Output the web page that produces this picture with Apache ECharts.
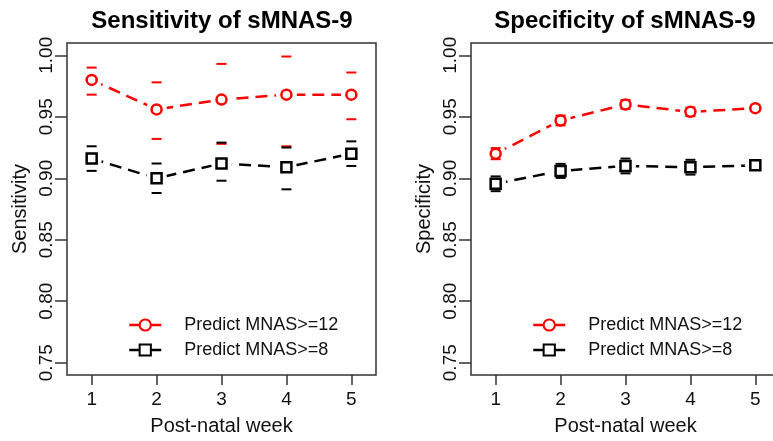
<!DOCTYPE html>
<html>
<head>
<meta charset="utf-8">
<title>sMNAS-9</title>
<script src="https://cdn.jsdelivr.net/npm/echarts@6/dist/echarts.min.js"></script>
<style>
	html, body { margin: 0; padding: 0; background: #fff; }
	#main { width: 773px; height: 441px; }
</style>
</head>
<body>
<div id="main"></div>
<script>
var weeks = [1, 2, 3, 4, 5];
var yTicks = [0.75, 0.80, 0.85, 0.90, 0.95, 1.00];

// Sensitivity panel
var sensHi12 = [0.980, 0.956, 0.964, 0.968, 0.968];
var sensHi12Lo = [0.968, 0.932, 0.928, 0.926, 0.948];
var sensHi12Up = [0.990, 0.978, 0.993, 0.999, 0.986];
var sens8 = [0.916, 0.900, 0.912, 0.909, 0.920];
var sens8Lo = [0.906, 0.888, 0.898, 0.891, 0.910];
var sens8Up = [0.926, 0.912, 0.929, 0.925, 0.930];

// Specificity panel
var spec12 = [0.920, 0.947, 0.960, 0.954, 0.957];
var spec12Lo = [0.9155, 0.943, 0.9565, 0.9505, 0.955];
var spec12Up = [0.9245, 0.951, 0.9635, 0.9575, 0.959];
var spec8 = [0.8955, 0.906, 0.910, 0.909, 0.9105];
var spec8Lo = [0.8895, 0.9003, 0.904, 0.903, 0.9085];
var spec8Up = [0.9015, 0.9117, 0.916, 0.915, 0.9125];

var NAME12 = "Predict MNAS>=12";
var NAME8 = "Predict MNAS>=8";
var FONT = "Liberation Sans, Arial, Helvetica, sans-serif";

function pairs(vals) {
	return weeks.map(function (w, i) { return [w, vals[i]]; });
}

function triples(lo, up) {
	return weeks.map(function (w, i) { return [w, lo[i], up[i]]; });
}

function renderCap(params, api) {
	var x = api.value(0);
	var lo = api.coord([x, api.value(1)]);
	var up = api.coord([x, api.value(2)]);
	var half = 5;
	var st = { stroke: api.visual("color"), lineWidth: 2 };
	return {
		type: "group",
		children: [
			{ type: "line", shape: { x1: lo[0] - half, y1: lo[1], x2: lo[0] + half, y2: lo[1] }, style: st },
			{ type: "line", shape: { x1: up[0] - half, y1: up[1], x2: up[0] + half, y2: up[1] }, style: st }
		]
	};
}

function panelSeries(idx, v12, lo12, up12, v8, lo8, up8) {
	var base = { xAxisIndex: idx, yAxisIndex: idx, silent: true, animation: false };
	var list = [
		{ type: "line", name: NAME12, data: pairs(v12), symbol: "emptyCircle", showSymbol: false,
			itemStyle: { color: "#ff0000" }, lineStyle: { color: "#ff0000", width: 2.5, type: [12, 7] }, z: 2 },
		{ type: "line", name: NAME8, data: pairs(v8), symbol: "emptyRect", showSymbol: false,
			itemStyle: { color: "#000" }, lineStyle: { color: "#000", width: 2.5, type: [12, 7] }, z: 2 },
		// white blobs leave the gap round each point, like R type="b"
		{ type: "scatter", name: "gap", data: pairs(v12).concat(pairs(v8)), symbol: "circle", symbolSize: 21,
			itemStyle: { color: "#fff", opacity: 1 }, z: 3 },
		{ type: "custom", name: "ci12", data: triples(lo12, up12), renderItem: renderCap,
			itemStyle: { color: "#ff0000" }, encode: { x: 0, y: [1, 2] }, z: 4 },
		{ type: "custom", name: "ci8", data: triples(lo8, up8), renderItem: renderCap,
			itemStyle: { color: "#000" }, encode: { x: 0, y: [1, 2] }, z: 4 },
		{ type: "scatter", name: "pts12", data: pairs(v12), symbol: "circle", symbolSize: 10,
			itemStyle: { color: "#fff", borderColor: "#ff0000", borderWidth: 2.5, opacity: 1 }, z: 5 },
		{ type: "scatter", name: "pts8", data: pairs(v8), symbol: "rect", symbolSize: 10,
			itemStyle: { color: "#fff", borderColor: "#000", borderWidth: 2.5, opacity: 1 }, z: 5 }
	];
	return list.map(function (s) { return Object.assign({}, base, s); });
}

function xAxisFor(idx) {
	return {
		type: "value", gridIndex: idx, min: 0.62, max: 5.38,
		splitLine: { show: false },
		axisLine: { show: false },
		axisTick: { show: true, length: 10, customValues: weeks, lineStyle: { color: "#333", width: 1.5 } },
		axisLabel: { customValues: weeks, margin: 15, fontSize: 19, color: "#111", fontFamily: FONT },
		name: "Post-natal week", nameLocation: "middle", nameGap: 41, nameMoveOverlap: false,
		nameTextStyle: { fontSize: 20, color: "#111", fontFamily: FONT }
	};
}

function yAxisFor(idx, title) {
	return {
		type: "value", gridIndex: idx, min: 0.74, max: 1.01,
		splitLine: { show: false },
		axisLine: { show: false },
		axisTick: { show: true, length: 12, customValues: yTicks, lineStyle: { color: "#333", width: 1.5 } },
		axisLabel: {
			customValues: yTicks, rotate: 90, margin: 11, fontSize: 19, color: "#111", fontFamily: FONT,
			formatter: function (v) { return v.toFixed(2); }
		},
		name: title, nameLocation: "middle", nameGap: 37, nameMoveOverlap: false,
		nameTextStyle: { fontSize: 20, color: "#111", fontFamily: FONT }
	};
}

function legendFor(left) {
	return {
		data: [NAME12, NAME8], orient: "vertical", left: left, top: 316, padding: 0,
		itemWidth: 32, itemHeight: 14, itemGap: 7, selectedMode: false,
		lineStyle: { type: "solid", width: 2.5 },
		textStyle: { fontSize: 18, color: "#111", fontFamily: FONT, padding: [0, 0, 0, 18] }
	};
}

var chart = echarts.init(document.getElementById("main"), null, { renderer: "canvas" });

chart.setOption({
	animation: false,
	backgroundColor: "#fff",
	title: [
		{ text: "Sensitivity of sMNAS-9", left: 222, top: 9, textAlign: "center", padding: 0,
			textStyle: { fontSize: 24, fontWeight: "bold", color: "#000", fontFamily: FONT } },
		{ text: "Specificity of sMNAS-9", left: 625, top: 9, textAlign: "center", padding: 0,
			textStyle: { fontSize: 24, fontWeight: "bold", color: "#000", fontFamily: FONT } }
	],
	legend: [legendFor(128), legendFor(532)],
	grid: [
		{ left: 67, top: 43, width: 309, height: 332, show: true, borderColor: "#333", borderWidth: 1.5,
			containLabel: false, outerBoundsMode: "none" },
		{ left: 471, top: 43, width: 309, height: 332, show: true, borderColor: "#333", borderWidth: 1.5,
			containLabel: false, outerBoundsMode: "none" }
	],
	xAxis: [xAxisFor(0), xAxisFor(1)],
	yAxis: [yAxisFor(0, "Sensitivity"), yAxisFor(1, "Specificity")],
	series: panelSeries(0, sensHi12, sensHi12Lo, sensHi12Up, sens8, sens8Lo, sens8Up)
		.concat(panelSeries(1, spec12, spec12Lo, spec12Up, spec8, spec8Lo, spec8Up))
});
</script>
</body>
</html>
